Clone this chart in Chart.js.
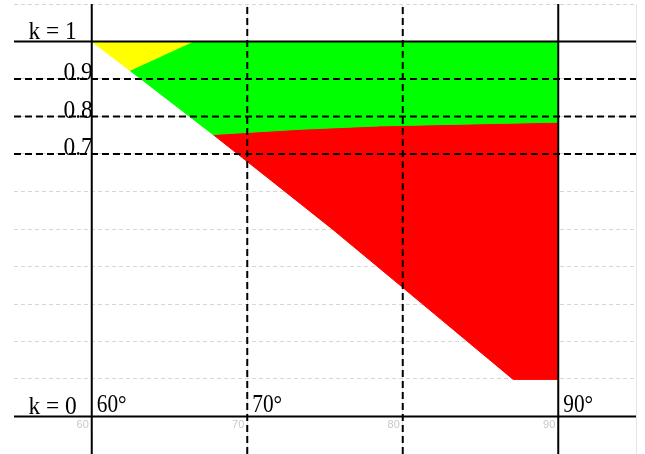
<!DOCTYPE html>
<html>
<head>
<meta charset="utf-8">
<script src="https://cdn.jsdelivr.net/npm/chart.js@4/dist/chart.umd.min.js"></script>
<style>
  body { margin: 0; background: #fff; }
</style>
</head>
<body>
<canvas id="grafico" width="645" height="454"></canvas>
<script>
// regiões (x = ângulo em graus, y = k)
const zonaAmarela = [
  { x: 60, y: 1.0 }, { x: 66.5, y: 1.0 }, { x: 62.45, y: 0.923 }
];
const zonaVerde = [
  { x: 62.45, y: 0.923 }, { x: 66.5, y: 1.0 }, { x: 90, y: 1.0 }, { x: 90, y: 0.785 },
  { x: 78.5, y: 0.775 }, { x: 73.4, y: 0.766 }, { x: 67.8, y: 0.752 }
];
const zonaVermelha = [
  { x: 67.8, y: 0.752 }, { x: 73.4, y: 0.766 }, { x: 78.5, y: 0.775 }, { x: 90, y: 0.785 },
  { x: 90, y: 0.099 }, { x: 87.1, y: 0.099 }, { x: 80.0, y: 0.344 }, { x: 75.5, y: 0.499 },
  { x: 72.1, y: 0.611 }
];

const linhasK = [1, 0];              // linhas cheias horizontais
const linhasNivel = [0.9, 0.8, 0.7]; // linhas tracejadas horizontais
const angulosCheios = [60, 90];
const angulosTracejados = [70, 80];

const rotulosK = ["k = 1", "k = 0"];
const rotulosNivel = ["0.9", "0.8", "0.7"];
const angulosRotulo = [60, 70, 90];
const rotulosAngulo = ["60°", "70°", "90°"];
const ticksX = [60, 70, 80, 90];
const ticksXLabels = ["60", "70", "80", "90"];

const xMin = 55, xMax = 95, yMin = -0.1, yMax = 1.1;

function poligono(dados, cor) {
  return {
    data: dados.concat([dados[0]]),
    showLine: true,
    fill: "shape",
    backgroundColor: cor,
    borderColor: cor,
    borderWidth: 1,
    pointRadius: 0,
    tension: 0,
    order: 5,
  };
}

function linha(pontos, tracejado) {
  return {
    data: pontos,
    showLine: true,
    fill: false,
    borderColor: "#000",
    borderWidth: 2,
    borderDash: tracejado ? [7, 4] : [],
    pointRadius: 0,
    order: 1,
  };
}

const datasets = [
  poligono(zonaAmarela, "#ffff00"),
  poligono(zonaVerde, "#00ff00"),
  poligono(zonaVermelha, "#ff0000"),
];
linhasK.forEach((k) => datasets.push(linha([{ x: xMin, y: k }, { x: xMax, y: k }], false)));
linhasNivel.forEach((k) => datasets.push(linha([{ x: xMin, y: k }, { x: xMax, y: k }], true)));
angulosCheios.forEach((a) => datasets.push(linha([{ x: a, y: yMin }, { x: a, y: yMax }], false)));
angulosTracejados.forEach((a) => datasets.push(linha([{ x: a, y: yMin }, { x: a, y: yMax }], true)));

// texto com compressão horizontal (as letras da imagem original são estreitas)
function texto(c, t, x, y, align, esc) {
  c.save();
  c.translate(x, y);
  c.scale(esc, 1);
  c.textAlign = align;
  c.fillText(t, 0, 0);
  c.restore();
}

const rotulos = {
  id: "rotulos",
  afterDatasetsDraw(chart) {
    const c = chart.ctx;
    const sx = chart.scales.x, sy = chart.scales.y;
    const x60 = sx.getPixelForValue(60);
    const y0 = sy.getPixelForValue(0);
    c.save();
    c.fillStyle = "#000";
    c.font = '26px "Liberation Serif", "Times New Roman", serif';
    c.textBaseline = "alphabetic";

    rotulosK.forEach((t, i) => {
      texto(c, t, x60 - 15, sy.getPixelForValue(linhasK[i]) - 3, "right", 0.9);
    });
    rotulosNivel.forEach((t, i) => {
      texto(c, t, x60 + 1, sy.getPixelForValue(linhasNivel[i]) + 1, "right", 0.9);
    });
    rotulosAngulo.forEach((t, i) => {
      texto(c, t, sx.getPixelForValue(angulosRotulo[i]) + 5, y0 - 5, "left", 0.82);
    });

    // ticks claros do eixo x
    c.fillStyle = "#c8c8c8";
    c.font = '11px "Liberation Sans", Arial, sans-serif';
    c.textAlign = "right";
    c.textBaseline = "top";
    ticksXLabels.forEach((t, i) => {
      c.fillText(t, sx.getPixelForValue(ticksX[i]) - 3, y0 + 3);
    });
    c.restore();
  },
};

new Chart(document.getElementById("grafico"), {
  type: "scatter",
  data: { datasets },
  options: {
    responsive: false,
    animation: false,
    layout: { padding: { left: 14, right: 9, top: 4, bottom: 0 } },
    plugins: { legend: { display: false }, tooltip: { enabled: false } },
    scales: {
      x: {
        type: "linear",
        min: xMin,
        max: xMax,
        afterBuildTicks: (s) => { s.ticks = ticksX.concat([xMax]).map((v) => ({ value: v })); },
        ticks: { display: false },
        grid: { drawTicks: false, color: "#e6e6e6" },
        border: { display: false },
      },
      y: {
        type: "linear",
        min: yMin,
        max: yMax,
        ticks: { display: false, stepSize: 0.1 },
        grid: { drawTicks: false, color: "#d6d6d6" },
        border: { display: false, dash: [4, 3] },
      },
    },
  },
  plugins: [rotulos],
});
</script>
</body>
</html>
